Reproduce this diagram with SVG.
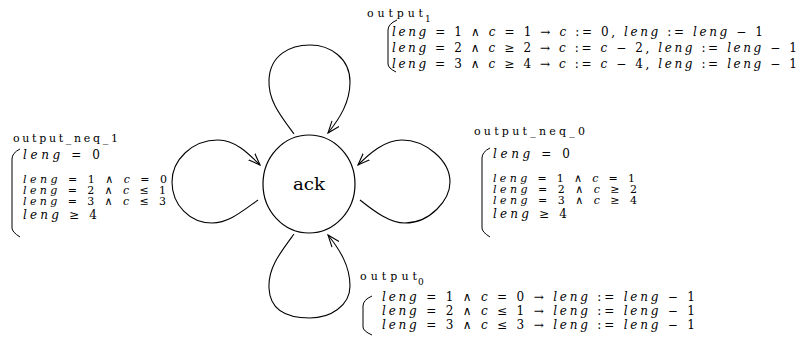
<svg xmlns="http://www.w3.org/2000/svg" width="801" height="341" viewBox="0 0 801 341">
  <style>
    .edge { fill: none; stroke: #000; stroke-width: 1.1; }
    .brace { fill: none; stroke: #000; stroke-width: 1; }
    .state { fill: #fff; stroke: #000; stroke-width: 1.2; }
    text { font-family: "DejaVu Serif", "Liberation Serif", serif; fill: #000; }
    .lbl { font-size: 11px; }
    .row { font-size: 12px; }
    .tight { font-size: 11px; }
    .sub { font-size: 9px; }
    .m { font-style: italic; }
    .name { font-size: 17px; }
  </style>
  <defs>
    <marker id="open" viewBox="-12 -6 14 12" refX="0" refY="0" markerWidth="14" markerHeight="12" markerUnits="userSpaceOnUse" orient="auto">
      <path d="M-12,-4.5 L0,0 L-12,4.5" fill="none" stroke="#000" stroke-width="1.1"/>
    </marker>
  </defs>

  <!-- self-loops on the single state -->
  <g id="connectors">
    <path class="edge" marker-end="url(#open)" d="M294,134 C280,115 268,100 269,80 C270,55 290,45 310,45 C330,45 350,58 350,82 C350,102 340,118 328,133"/>
    <path class="edge" marker-end="url(#open)" d="M294,234 C280,253 268,268 269,288 C270,313 290,318 310,318 C330,318 350,306 350,286 C350,266 340,250 328,235"/>
    <path class="edge" marker-end="url(#open)" d="M258,200 C240,213 228,223 212,223 C190,223 172,205 172,182 C172,160 192,140 218,140 C235,140 248,153 260,165"/>
    <path class="edge" marker-end="url(#open)" d="M360,200 C375,212 390,223 405,223 C430,223 450,200 450,182 C450,160 425,140 402,140 C385,140 370,153 358,165"/>
  </g>

  <g id="ack">
    <ellipse class="state" cx="309" cy="184" rx="46" ry="49"/>
    <text class="name" x="293" y="190" textLength="32" lengthAdjust="spacingAndGlyphs">ack</text>
  </g>

  <!-- top loop guard -->
  <g id="output1">
    <text class="lbl" x="367" y="17" textLength="56" lengthAdjust="spacing">output</text>
    <text class="sub" x="425" y="22">1</text>
    <path class="brace" d="M397,20 Q388,24 388,30 V64 Q388,68 396,72"/>
    <text class="row" x="392" y="36" textLength="371" lengthAdjust="spacing"><tspan class="m">leng</tspan> = 1 ∧ <tspan class="m">c</tspan> = 1 → <tspan class="m">c</tspan> := 0, <tspan class="m">leng</tspan> := <tspan class="m">leng</tspan> − 1</text>
    <text class="row" x="392" y="52" textLength="405" lengthAdjust="spacing"><tspan class="m">leng</tspan> = 2 ∧ <tspan class="m">c</tspan> ≥ 2 → <tspan class="m">c</tspan> := <tspan class="m">c</tspan> − 2, <tspan class="m">leng</tspan> := <tspan class="m">leng</tspan> − 1</text>
    <text class="row" x="392" y="68" textLength="405" lengthAdjust="spacing"><tspan class="m">leng</tspan> = 3 ∧ <tspan class="m">c</tspan> ≥ 4 → <tspan class="m">c</tspan> := <tspan class="m">c</tspan> − 4, <tspan class="m">leng</tspan> := <tspan class="m">leng</tspan> − 1</text>
  </g>

  <!-- left loop guard -->
  <g id="output_neq_1">
    <text class="lbl" x="13" y="142" textLength="105" lengthAdjust="spacing">output_neq_1</text>
    <path class="brace" d="M20,149 Q12,153 12,159 V228 Q12,232 20,237"/>
    <text class="row" x="23" y="159" textLength="77" lengthAdjust="spacing"><tspan class="m">leng</tspan> = 0</text>
    <text class="row tight" x="23" y="183" textLength="144" lengthAdjust="spacing"><tspan class="m">leng</tspan> = 1 ∧ <tspan class="m">c</tspan> = 0</text>
    <text class="row tight" x="23" y="194" textLength="143" lengthAdjust="spacing"><tspan class="m">leng</tspan> = 2 ∧ <tspan class="m">c</tspan> ≤ 1</text>
    <text class="row tight" x="23" y="205" textLength="143" lengthAdjust="spacing"><tspan class="m">leng</tspan> = 3 ∧ <tspan class="m">c</tspan> ≤ 3</text>
    <text class="row" x="23" y="219" textLength="74" lengthAdjust="spacing"><tspan class="m">leng</tspan> ≥ 4</text>
  </g>

  <!-- right loop guard -->
  <g id="output_neq_0">
    <text class="lbl" x="474" y="135" textLength="111" lengthAdjust="spacing">output_neq_0</text>
    <path class="brace" d="M490,148 Q482,152 482,158 V228 Q482,232 490,237"/>
    <text class="row" x="493" y="158" textLength="77" lengthAdjust="spacing"><tspan class="m">leng</tspan> = 0</text>
    <text class="row tight" x="493" y="182" textLength="142" lengthAdjust="spacing"><tspan class="m">leng</tspan> = 1 ∧ <tspan class="m">c</tspan> = 1</text>
    <text class="row tight" x="493" y="193" textLength="144" lengthAdjust="spacing"><tspan class="m">leng</tspan> = 2 ∧ <tspan class="m">c</tspan> ≥ 2</text>
    <text class="row tight" x="493" y="204" textLength="144" lengthAdjust="spacing"><tspan class="m">leng</tspan> = 3 ∧ <tspan class="m">c</tspan> ≥ 4</text>
    <text class="row" x="493" y="218" textLength="74" lengthAdjust="spacing"><tspan class="m">leng</tspan> ≥ 4</text>
  </g>

  <!-- bottom loop guard -->
  <g id="output0">
    <text class="lbl" x="360" y="280" textLength="57" lengthAdjust="spacing">output</text>
    <text class="sub" x="418" y="285">0</text>
    <path class="brace" d="M372,296 Q363,300 363,306 V327 Q363,331 372,335"/>
    <text class="row" x="382" y="301" textLength="313" lengthAdjust="spacing"><tspan class="m">leng</tspan> = 1 ∧ <tspan class="m">c</tspan> = 0 → <tspan class="m">leng</tspan> := <tspan class="m">leng</tspan> − 1</text>
    <text class="row" x="382" y="315" textLength="313" lengthAdjust="spacing"><tspan class="m">leng</tspan> = 2 ∧ <tspan class="m">c</tspan> ≤ 1 → <tspan class="m">leng</tspan> := <tspan class="m">leng</tspan> − 1</text>
    <text class="row" x="382" y="329" textLength="313" lengthAdjust="spacing"><tspan class="m">leng</tspan> = 3 ∧ <tspan class="m">c</tspan> ≤ 3 → <tspan class="m">leng</tspan> := <tspan class="m">leng</tspan> − 1</text>
  </g>
</svg>
